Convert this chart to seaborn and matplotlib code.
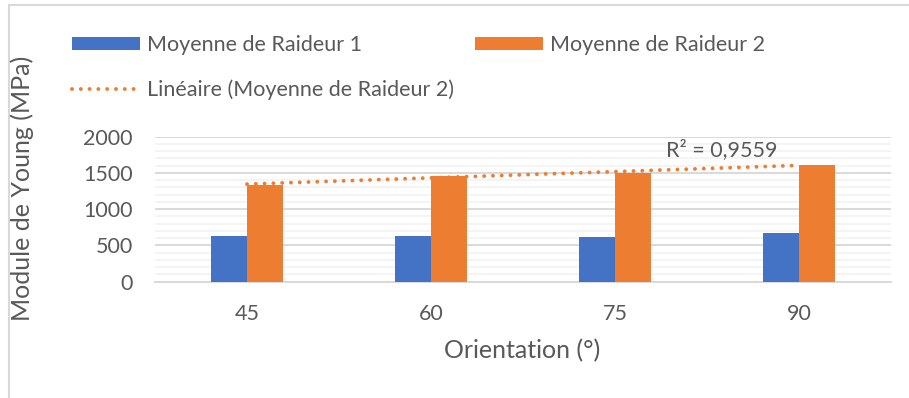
import numpy as np
import pandas as pd
import seaborn as sns
import matplotlib.pyplot as plt
from matplotlib.lines import Line2D
from matplotlib.patches import Patch
from matplotlib.ticker import MultipleLocator

# Data
orientations = ["45", "60", "75", "90"]
raideur_1 = [630, 630, 617, 672]
raideur_2 = [1334, 1462, 1495, 1610]
series_names = ["Moyenne de Raideur 1", "Moyenne de Raideur 2"]
trend_name = "Linéaire (Moyenne de Raideur 2)"
r2_label = "R² = 0,9559"

BLUE = "#4472C4"
ORANGE = "#ED7D31"
TEXT = "#595959"
GRID_MAJOR = "#D9D9D9"
GRID_MINOR = "#F2F2F2"
DOTS = (0, (0.01, 2.25))

sns.set_theme(style="white")
plt.rcParams["font.family"] = ["Lato", "DejaVu Sans"]

df = pd.DataFrame({
    "Orientation": orientations * 2,
    "Valeur": raideur_1 + raideur_2,
    "Série": [series_names[0]] * 4 + [series_names[1]] * 4,
})

fig = plt.figure(figsize=(9.09, 3.98), dpi=100)
ax = fig.add_axes([155 / 909, 1 - 281.7 / 398, (891 - 155) / 909, (281.7 - 136.7) / 398])

sns.barplot(data=df, x="Orientation", y="Valeur", hue="Série",
            palette=[BLUE, ORANGE], width=0.39, gap=0, saturation=1,
            edgecolor="none", linewidth=0, legend=False, ax=ax, zorder=3)

# Linear trendline on the second series
xi = np.arange(len(raideur_2))
slope, intercept = np.polyfit(xi, raideur_2, 1)
ax.plot(xi, slope * xi + intercept, color=ORANGE, linestyle=DOTS,
        linewidth=2.8, dash_capstyle="round", zorder=4)
ax.text(2.58, 1817, r2_label, ha="center", va="center", fontsize=15.5, color=TEXT)

ax.set_xlim(-0.5, 3.5)
ax.set_ylim(0, 2000)
ax.yaxis.set_major_locator(MultipleLocator(500))
ax.yaxis.set_minor_locator(MultipleLocator(100))
ax.grid(True, which="major", axis="y", color=GRID_MAJOR, linewidth=1.4, zorder=0)
ax.grid(True, which="minor", axis="y", color=GRID_MINOR, linewidth=1.2, zorder=0)
ax.set_axisbelow(True)
for side in ["top", "right", "left"]:
    ax.spines[side].set_visible(False)
ax.spines["bottom"].set_color(GRID_MAJOR)
ax.spines["bottom"].set_linewidth(1.4)
ax.tick_params(axis="both", which="both", length=0, labelsize=15.5, labelcolor=TEXT)
ax.tick_params(axis="x", pad=16)
ax.tick_params(axis="y", pad=16)
ax.set_xlabel("")
ax.set_ylabel("")

fig.text(522 / 909, 1 - 351 / 398, "Orientation (°)", ha="center", va="center",
         fontsize=18, color=TEXT)
fig.text(22 / 909, 1 - 188 / 398, "Module de Young (MPa)", ha="center", va="center",
         rotation=90, fontsize=18, color=TEXT)

handles = [
    Patch(facecolor=BLUE, edgecolor="none"),
    Line2D([0], [0], color=ORANGE, linestyle=DOTS, linewidth=2.8,
           dash_capstyle="round"),
    Patch(facecolor=ORANGE, edgecolor="none"),
]
labels = [series_names[0], trend_name, series_names[1]]
fig.legend(handles, labels, loc="upper left", bbox_to_anchor=(72 / 909, 1 - 35 / 398),
           ncol=2, frameon=False, fontsize=15.5, labelcolor=TEXT,
           handlelength=3.15, handleheight=0.6, handletextpad=0.35,
           columnspacing=0.95, labelspacing=1.15, borderaxespad=0, borderpad=0)

# Chart frame
fig.add_artist(Line2D([9 / 909, 9 / 909], [0, 1 - 5 / 398], transform=fig.transFigure,
                      color=GRID_MAJOR, linewidth=1.5))
fig.add_artist(Line2D([9 / 909, 1], [1 - 5 / 398, 1 - 5 / 398], transform=fig.transFigure,
                      color=GRID_MAJOR, linewidth=1.5))

fig.savefig("out.png", dpi=100)
